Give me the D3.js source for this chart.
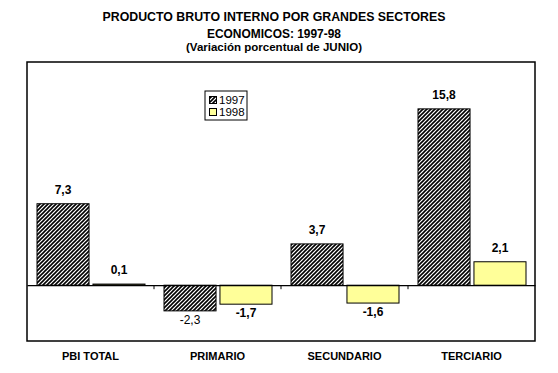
<!DOCTYPE html>
<html>
<head>
<meta charset="utf-8">
<script src="https://cdn.jsdelivr.net/npm/d3@7/dist/d3.min.js"></script>
<style>
  body { margin: 0; background: #fff; }
  text { font-family: Arial, "Liberation Sans", sans-serif; }
</style>
</head>
<body>
<div id="chart"></div>
<script>
var categories = ["PBI TOTAL", "PRIMARIO", "SECUNDARIO", "TERCIARIO"];
var seriesNames = ["1997", "1998"];
var values1997 = [7.3, -2.3, 3.7, 15.8];
var values1998 = [0.1, -1.7, -1.6, 2.1];
var titleLines = ["PRODUCTO BRUTO INTERNO POR GRANDES SECTORES", "ECONOMICOS: 1997-98", "(Variación porcentual de JUNIO)"];

var width = 558, height = 373;
var margin = { left: 27, top: 62, right: 23, bottom: 32 };

var svg = d3.select("#chart").append("svg").attr("width", width).attr("height", height);

// hatch for 1997
var defs = svg.append("defs");
var pat = defs.append("pattern").attr("id", "hatch").attr("patternUnits", "userSpaceOnUse")
    .attr("width", 4).attr("height", 4);
pat.append("rect").attr("width", 4).attr("height", 4).attr("fill", "#fff");
pat.append("path").attr("d", "M-1,1 l2,-2 M0,4 l4,-4 M3,5 l2,-2")
    .attr("stroke", "#000").attr("stroke-width", 1.6);

var fills = ["url(#hatch)", "#ffff99"];

var x0 = d3.scaleBand().domain(categories).range([margin.left, width - margin.right]);
var x1 = d3.scaleBand().domain(seriesNames).range([10, x0.bandwidth() - 9]).paddingInner(0.07);
var y = d3.scaleLinear().domain([-5, 20]).range([height - margin.bottom, margin.top]);

// plot frame
svg.append("rect").attr("x", margin.left).attr("y", margin.top)
    .attr("width", width - margin.left - margin.right).attr("height", height - margin.top - margin.bottom)
    .attr("fill", "#fff").attr("stroke", "#000").attr("stroke-width", 1.5);

// title
var tSizes = [12.5, 12.5, 11];
var tY = [21, 38, 51];
var tLen = [343, 134, 176];
titleLines.forEach(function(t, i) {
    svg.append("text").attr("x", 274).attr("y", tY[i]).attr("text-anchor", "middle")
        .attr("font-size", tSizes[i] + "px").attr("font-weight", "bold")
        .attr("textLength", tLen[i]).attr("lengthAdjust", "spacingAndGlyphs").text(t);
});

var data = [];
categories.forEach(function(c, i) {
    data.push({ cat: c, s: 0, v: values1997[i] });
    data.push({ cat: c, s: 1, v: values1998[i] });
});

svg.selectAll("rect.bar").data(data).enter().append("rect").attr("class", "bar")
    .attr("x", function(d) { return x0(d.cat) + x1(seriesNames[d.s]); })
    .attr("y", function(d) { return y(Math.max(0, d.v)); })
    .attr("width", x1.bandwidth())
    .attr("height", function(d) { return Math.abs(y(d.v) - y(0)); })
    .attr("fill", function(d) { return fills[d.s]; })
    .attr("stroke", "#000").attr("stroke-width", 1);

// zero axis with ticks between categories
var xAxis = d3.axisBottom(x0).tickSize(0).tickFormat("");
svg.append("g").attr("transform", "translate(0," + y(0) + ")").call(xAxis)
    .select(".domain").attr("stroke-width", 1.2);
categories.slice(1).forEach(function(c) {
    svg.append("line").attr("x1", x0(c)).attr("x2", x0(c))
        .attr("y1", y(0)).attr("y2", y(0) + 4).attr("stroke", "#000");
});

// value labels
svg.selectAll("text.val").data(data).enter().append("text").attr("class", "val")
    .attr("x", function(d) { return x0(d.cat) + x1(seriesNames[d.s]) + x1.bandwidth() / 2; })
    .attr("y", function(d) { return d.v >= 0 ? y(d.v) - 10 : y(d.v) + 13; })
    .attr("text-anchor", "middle").attr("font-size", "12px")
    .attr("font-weight", function(d) { return d.v === -2.3 ? "normal" : "bold"; })
    .text(function(d) { return d3.format(".1f")(d.v).replace(".", ",").replace("−", "-"); });

// category labels
svg.selectAll("text.cat").data(categories).enter().append("text").attr("class", "cat")
    .attr("x", function(d) { return x0(d) + x0.bandwidth() / 2; })
    .attr("y", 360).attr("text-anchor", "middle")
    .attr("font-size", "11px").attr("font-weight", "bold").text(function(d) { return d; });

// legend
var lg = svg.append("g").attr("transform", "translate(205,91)");
lg.append("rect").attr("width", 42).attr("height", 29).attr("fill", "#fff")
    .attr("stroke", "#000").attr("stroke-width", 1);
seriesNames.forEach(function(s, i) {
    lg.append("rect").attr("x", 4.5).attr("y", 5.5 + i * 12).attr("width", 7).attr("height", 7)
        .attr("fill", fills[i]).attr("stroke", "#000");
    lg.append("text").attr("x", 14).attr("y", 13 + i * 12).attr("font-size", "11.5px").text(s);
});
</script>
</body>
</html>
